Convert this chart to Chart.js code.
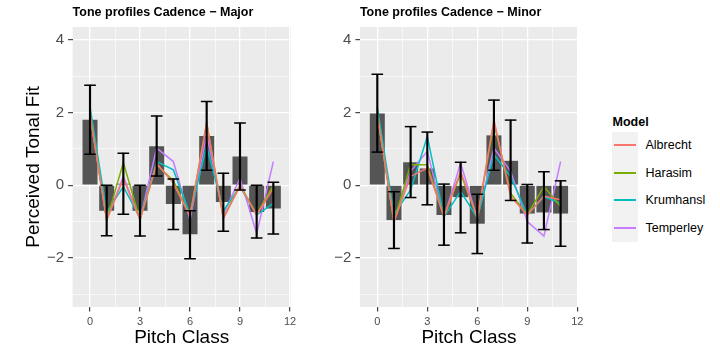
<!DOCTYPE html>
<html><head><meta charset="utf-8">
<script src="https://cdn.jsdelivr.net/npm/chart.js@4.4.0/dist/chart.umd.min.js"></script>
<style>
html,body{margin:0;padding:0;background:#fff;width:720px;height:358px;overflow:hidden;font-family:"Liberation Sans",Arial,sans-serif;}
#c1{position:absolute;left:0;top:0;}
#c2{position:absolute;left:300px;top:0;}
#legend{position:absolute;left:612px;top:0;width:108px;height:358px;}
#legend .ttl{position:absolute;left:0.5px;top:113.5px;font-weight:bold;font-size:12.5px;line-height:16px;color:#000;white-space:nowrap;}
#legend .key{position:absolute;left:0;width:26px;height:27.5px;background:#f2f2f2;}
#legend .key i{position:absolute;left:2px;right:2px;top:12.75px;height:2px;display:block;}
#legend .lab{position:absolute;left:33.5px;font-size:12.5px;line-height:16px;color:#000;white-space:nowrap;}
</style></head><body>
<canvas id="c1" width="300" height="358"></canvas>
<canvas id="c2" width="290" height="358"></canvas>
<div id="legend"></div>
<script>
// ---------- data ----------
const pitchClasses = [0,1,2,3,4,5,6,7,8,9,10,11];
const xTickValues = [0,3,6,9,12];
const yTickValues = [-2,0,2,4];
const models = ['Albrecht','Harasim','Krumhansl','Temperley'];
const modelColors = ['#F8766D','#7CAE00','#00BFC4','#C77CFF'];
const legendTitle = 'Model';
const titleMajor = 'Tone profiles Cadence \u2212 Major';
const titleMinor = 'Tone profiles Cadence \u2212 Minor';
const xTitle = 'Pitch Class';
const yTitle = 'Perceived Tonal Fit';

const majorMean  = [1.80,-0.70, 0.04,-0.70, 1.07,-0.52,-1.35, 1.35,-0.46, 0.79,-0.74,-0.64];
const majorLower = [0.85,-1.39,-0.80,-1.40, 0.25,-1.22,-2.02, 0.41,-1.27,-0.13,-1.45,-1.34];
const majorUpper = [2.75, 0.00, 0.88, 0.00, 1.90, 0.17,-0.70, 2.30, 0.33, 1.71, 0.00, 0.08];
const majorAlbrecht  = [1.95,-0.96, 0.18,-0.95, 0.60, 0.05,-0.85, 1.70,-0.92,-0.02,-0.82,-0.08];
const majorHarasim   = [1.95,-0.96, 0.62,-0.95, 0.56, 0.12,-0.85, 1.72,-0.90, 0.00,-0.80, 0.00];
const majorKrumhansl = [2.15,-0.74,-0.04,-0.90, 0.65, 0.42,-0.80, 1.07,-0.70,-0.04,-0.82,-0.50];
const majorTemperley = [1.95,-0.95, 0.24,-0.95, 1.02, 0.65,-0.95, 1.40,-0.80, 0.19,-1.33, 0.65];

const minorMean  = [1.97,-0.96, 0.63, 0.46,-0.82,-0.33,-1.06, 1.37, 0.67,-0.78,-0.75,-0.78];
const minorLower = [0.91,-1.74,-0.34,-0.54,-1.65,-1.31,-1.88, 0.41,-0.42,-1.59,-1.22,-1.68];
const minorUpper = [3.05,-0.18, 1.61, 1.46, 0.03, 0.63,-0.25, 2.34, 1.79, 0.02, 0.37, 0.12];
const minorAlbrecht  = [1.95,-1.00, 0.24, 0.47,-0.87, 0.38,-0.90, 1.80,-0.31,-0.82,-0.30,-0.40];
const minorHarasim   = [1.95,-1.00, 0.56, 0.56,-0.87, 0.33,-0.90, 1.70,-0.22,-0.82,-0.04,-0.59];
const minorKrumhansl = [2.15,-0.80,-0.13, 1.34,-0.87,-0.17,-0.90, 0.84, 0.24,-0.82,-0.31,-0.50];
const minorTemperley = [1.95,-1.00, 0.38, 0.93,-0.90, 0.61,-0.92, 1.02, 0.38,-1.00,-1.40, 0.65];

// ---------- helpers ----------
const FONT = '"Liberation Sans", Arial, sans-serif';
const X_MIN = -1.045, X_MAX = 12.045, Y_MIN = -3.35, Y_MAX = 4.35;
function withMinor(major){ const out=[]; for(let i=0;i<major.length;i++){ out.push(major[i]); if(i<major.length-1) out.push((major[i]+major[i+1])/2); } return out; }
const xGrid = withMinor(xTickValues);
const yGrid = [yTickValues[0]-1].concat(withMinor(yTickValues));
function pts(vals){ return pitchClasses.map((p,i)=>({x:p,y:vals[i]})); }
function fmt(v){ return v<0 ? '\u2212'+Math.abs(v) : String(v); }

const panelBg = { id:'panelBg', beforeDraw(chart){ const {ctx, chartArea:a}=chart; ctx.save(); ctx.fillStyle='#ebebeb'; ctx.fillRect(a.left,a.top,a.right-a.left,a.bottom-a.top); ctx.restore(); } };
const panelTitle = { id:'panelTitle', afterDraw(chart, args, opts){ const {ctx, chartArea:a}=chart; ctx.save(); ctx.font='bold 12.5px '+FONT; ctx.fillStyle='#000'; ctx.textBaseline='middle'; ctx.textAlign='left'; ctx.fillText(opts.text, a.left, 13); ctx.restore(); } };

function gridOpts(majors){
  return {
    color:'#ffffff',
    lineWidth: c => (c.tick && majors.includes(c.tick.value)) ? 1.3 : 0.6,
    drawTicks:true, tickLength:4.5, tickWidth:1.1,
    tickColor: c => (c.tick && majors.includes(c.tick.value)) ? '#333333' : 'rgba(0,0,0,0)',
    offset:false
  };
}

function makePanel(canvas, title, mean, lower, upper, lines, showYTitle, yAxisWidth, padRight){
  const datasets = [];
  datasets.push({type:'bar', data:pts(mean), backgroundColor:'#555555', borderWidth:0, grouped:false, categoryPercentage:0.9, barPercentage:1.0, order:100});
  lines.forEach((vals,k)=>datasets.push({type:'line', label:models[k], data:pts(vals), borderColor:modelColors[k], borderWidth:1.5, pointRadius:0, pointHoverRadius:0, tension:0, fill:false, order:10+k}));
  datasets.push({type:'bar', data:pitchClasses.map((p,i)=>({x:p,y:[lower[i],upper[i]]})), backgroundColor:'#000', borderWidth:0, grouped:false, barThickness:1.5, order:2});
  datasets.push({type:'line', data:pts(upper).concat(pts(lower)), showLine:false, pointStyle:'line', pointRadius:5.8, pointHoverRadius:5.8, pointBorderWidth:1.5, pointBorderColor:'#000', pointBackgroundColor:'#000', order:1});
  return new Chart(canvas, {
    type:'bar',
    data:{datasets},
    plugins:[panelBg, panelTitle],
    options:{
      responsive:false, animation:false, devicePixelRatio:1, events:[],
      layout:{padding:{left:0,right:padRight,top:27,bottom:6}},
      plugins:{legend:{display:false}, tooltip:{enabled:false}, panelTitle:{text:title}},
      scales:{
        x:{type:'linear', min:X_MIN, max:X_MAX, offset:false,
           afterBuildTicks: s => { s.ticks = xGrid.map(v=>({value:v})); },
           grid:gridOpts(xTickValues), border:{display:false},
           ticks:{callback: v => xTickValues.includes(v) ? fmt(v) : '', font:{family:FONT,size:11}, color:'#4d4d4d', padding:3.5, autoSkip:false, maxRotation:0, minRotation:0},
           title:{display:true, text:xTitle, font:{family:FONT,size:19}, color:'#000', padding:{top:0,bottom:2.6}},
           afterFit: s => { s.height = 45; }
        },
        y:{type:'linear', min:Y_MIN, max:Y_MAX,
           afterBuildTicks: s => { s.ticks = yGrid.map(v=>({value:v})); },
           grid:gridOpts(yTickValues), border:{display:false},
           ticks:{callback: v => yTickValues.includes(v) ? fmt(v) : '', font:{family:FONT,size:15}, color:'#4d4d4d', padding:4, autoSkip:false},
           title:{display:showYTitle, text:yTitle, font:{family:FONT,size:19}, color:'#000', padding:{top:22.6,bottom:0}},
           afterFit: s => { s.width = yAxisWidth; }
        }
      }
    }
  });
}

makePanel(document.getElementById('c1'), titleMajor, majorMean, majorLower, majorUpper,
  [majorAlbrecht, majorHarasim, majorKrumhansl, majorTemperley], true, 72.6, 9.25);
makePanel(document.getElementById('c2'), titleMinor, minorMean, minorLower, minorUpper,
  [minorAlbrecht, minorHarasim, minorKrumhansl, minorTemperley], false, 59.9, 12);

// ---------- legend ----------
const lg = document.getElementById('legend');
const t = document.createElement('div'); t.className='ttl'; t.textContent=legendTitle; lg.appendChild(t);
models.forEach((m,k)=>{
  const top = 131.7 + k*27.5;
  const key = document.createElement('div'); key.className='key'; key.style.top=top+'px';
  const ln = document.createElement('i'); ln.style.background=modelColors[k]; key.appendChild(ln); lg.appendChild(key);
  const lab = document.createElement('div'); lab.className='lab'; lab.style.top=(top+5.75)+'px'; lab.textContent=m; lg.appendChild(lab);
});
</script>
</body></html>
